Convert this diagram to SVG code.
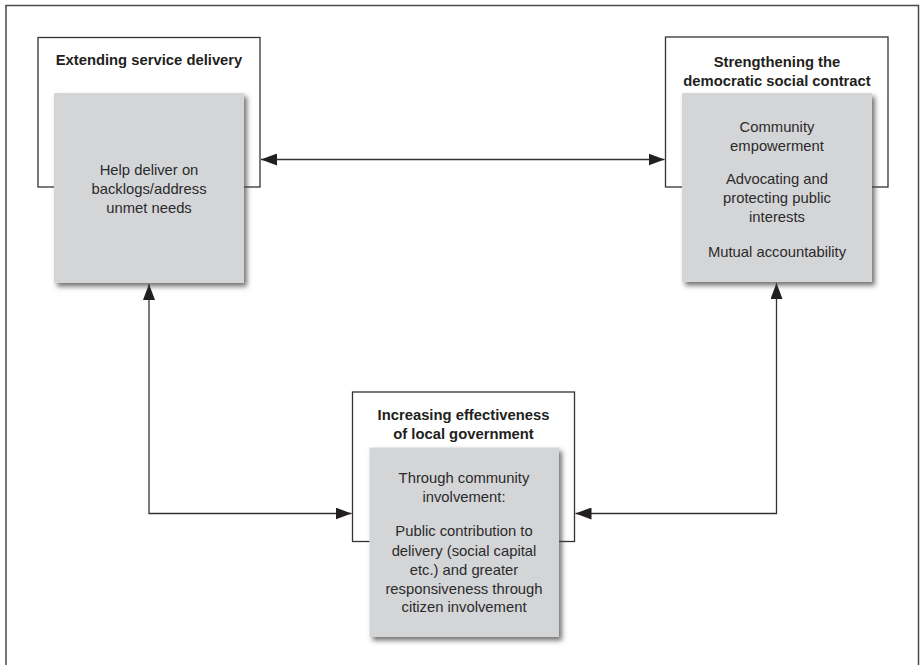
<svg xmlns="http://www.w3.org/2000/svg" width="921" height="665" viewBox="0 0 921 665">
  <defs>
    <filter id="shadow" x="-10%" y="-10%" width="125%" height="125%">
      <feDropShadow dx="3" dy="3.5" stdDeviation="2.5" flood-color="#444" flood-opacity="0.75"/>
    </filter>
    <marker id="arrow" viewBox="0 0 16 12" refX="16" refY="6" markerWidth="16" markerHeight="12" markerUnits="userSpaceOnUse" orient="auto-start-reverse">
      <path d="M0,0 L16,6 L0,12 Z" fill="#231f20"/>
    </marker>
    <style>
      .frame { fill: none; stroke: #4a4a4a; stroke-width: 1.5; }
      .outer { fill: #ffffff; stroke: #333; stroke-width: 1.3; }
      .inner { fill: #d4d5d7; filter: url(#shadow); }
      .title { font-family: "Liberation Sans", Arial, sans-serif; font-weight: bold; font-size: 14.8px; fill: #231f20; text-anchor: middle; }
      .body { font-family: "Liberation Sans", Arial, sans-serif; font-size: 14.8px; fill: #2b2b2b; text-anchor: middle; }
      .conn { fill: none; stroke: #333; stroke-width: 1.3; marker-start: url(#arrow); marker-end: url(#arrow); }
    </style>
  </defs>
  <rect width="921" height="665" fill="#ffffff"/>
  <path class="frame" d="M6,670 V5.5 H918.5 V670"/>

  <g id="connectors">
    <path class="conn" d="M261,159.5 H664.5"/>
    <path class="conn" d="M149,284 V513.5 H351.5"/>
    <path class="conn" d="M776.5,283 V513.5 H575.5"/>
  </g>

  <g id="node-service-delivery">
    <rect class="outer" x="38" y="37.5" width="222" height="149.5"/>
    <text class="title" x="149" y="65">Extending service delivery</text>
    <rect class="inner" x="54" y="93" width="190" height="190"/>
    <text class="body" x="149" y="175">Help deliver on</text>
    <text class="body" x="149" y="194">backlogs/address</text>
    <text class="body" x="149" y="213">unmet needs</text>
  </g>

  <g id="node-social-contract">
    <rect class="outer" x="665.5" y="37" width="222.5" height="150"/>
    <text class="title" x="777" y="67">Strengthening the</text>
    <text class="title" x="777" y="85.5">democratic social contract</text>
    <rect class="inner" x="682" y="93" width="190" height="189"/>
    <text class="body" x="777" y="132">Community</text>
    <text class="body" x="777" y="150.5">empowerment</text>
    <text class="body" x="777" y="184">Advocating and</text>
    <text class="body" x="777" y="203">protecting public</text>
    <text class="body" x="777" y="222">interests</text>
    <text class="body" x="777" y="257">Mutual accountability</text>
  </g>

  <g id="node-local-government">
    <rect class="outer" x="352.5" y="392" width="222" height="149.5"/>
    <text class="title" x="463.5" y="420">Increasing effectiveness</text>
    <text class="title" x="463.5" y="438.5">of local government</text>
    <rect class="inner" x="369.5" y="447.5" width="189.5" height="189.5"/>
    <text class="body" x="464" y="483">Through community</text>
    <text class="body" x="464" y="501.7">involvement:</text>
    <text class="body" x="464" y="536">Public contribution to</text>
    <text class="body" x="464" y="555.5">delivery (social capital</text>
    <text class="body" x="464" y="574.5">etc.) and greater</text>
    <text class="body" x="464" y="593.5">responsiveness through</text>
    <text class="body" x="464" y="612">citizen involvement</text>
  </g>
</svg>
